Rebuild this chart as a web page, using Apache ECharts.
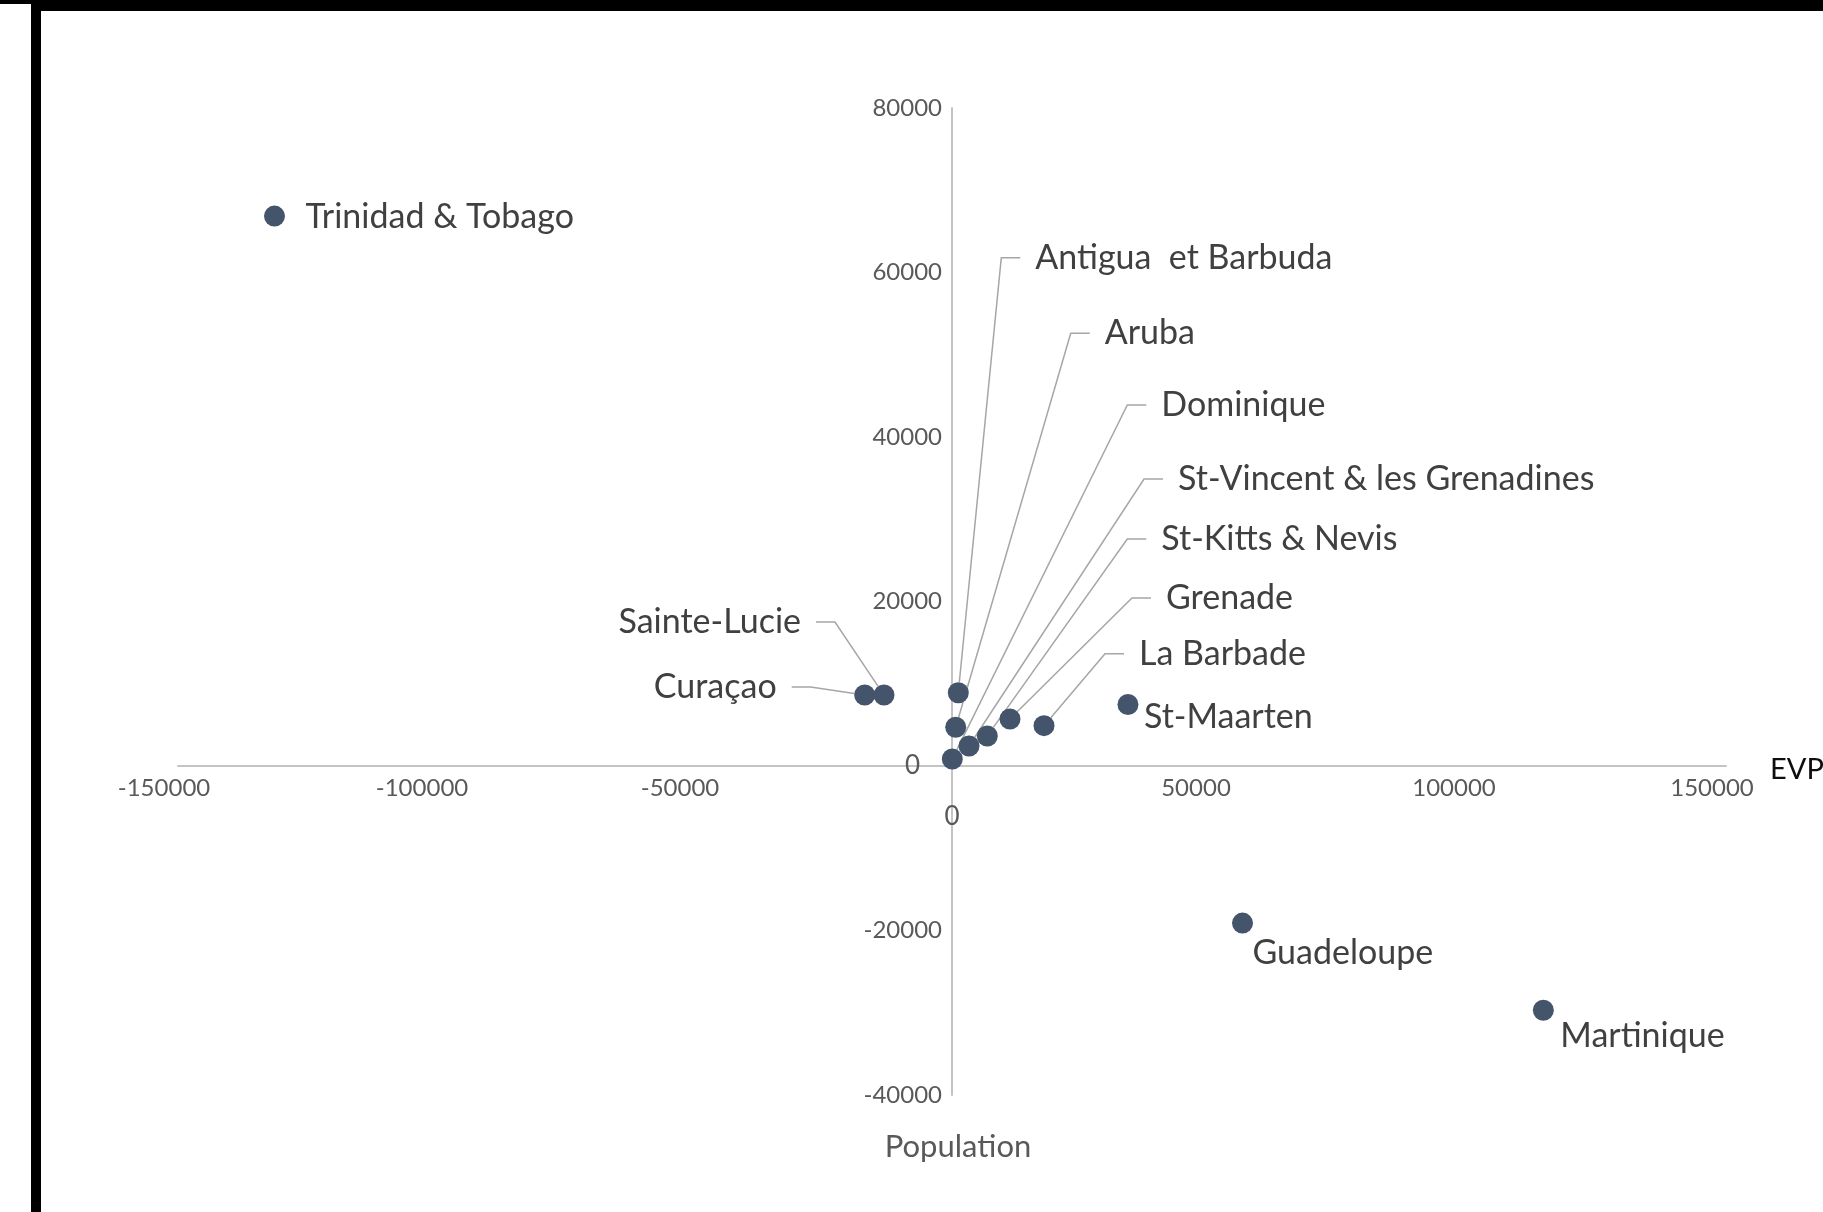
<!DOCTYPE html>
<html>
<head>
<meta charset="utf-8">
<script src="https://cdn.jsdelivr.net/npm/echarts@6/dist/echarts.min.js"></script>
<style>
html,body{margin:0;padding:0;background:#fff;}
#chart{width:1823px;height:1212px;}
</style>
</head>
<body>
<div id="chart"></div>
<script>
// ---- data ----
const countries = ['Trinidad & Tobago','Antigua  et Barbuda','Aruba','Dominique','St-Vincent & les Grenadines','St-Kitts & Nevis','Grenade','La Barbade','St-Maarten','Sainte-Lucie','Curaçao','Guadeloupe','Martinique'];
const evp =        [-131300, 1220, 720, 60, 3300, 6840, 11240, 17830, 34100, -13180, -16920, 56300, 114600];
const population = [66860, 8910, 4710, 850, 2430, 3650, 5720, 4900, 7480, 8630, 8630, -19100, -29700];
const xTicks = {min: -150000, max: 150000, interval: 50000};
const yTicks = {min: -40000, max: 80000, interval: 20000};

// ---- label layout (pixel offsets from point centre, layout only) ----
const labelDx =   [16, 62, 134, 194, 194, 159, 141, 80, 1, -68, -73, -5, 2];
const labelDy =   [1, -435, -394, -354, -267, -197, -121, -72, 13, -73, -8, 30, 26];
const labelSide = ['left','left','left','left','left','left','left','left','left','right','right','left','left'];
const labelLeader=[false,true,true,true,true,true,true,true,false,true,true,false,false];

const FONT = 'Lato';
const chart = echarts.init(document.getElementById('chart'));

const points = countries.map((n, i) => {
  const pad = labelSide[i] === 'left' ? [2, labelLeader[i] ? 220 : 4, 2, 15] : [2, 15, 2, 220];
  return {
    name: n,
    value: [evp[i], population[i]],
    label: {padding: pad},
    labelLine: {show: labelLeader[i]}
  };
});

function axisLabelCfg(pad, zeroPad) {
  return {
    fontFamily: FONT, fontSize: 24, color: '#595959', margin: 10, padding: pad,
    formatter: v => v === 0 ? '{z|0}' : String(v),
    rich: {z: {fontFamily: FONT, fontSize: 26, color: '#595959', padding: zeroPad}}
  };
}

const option = {
  animation: false,
  backgroundColor: '#ffffff',
  grid: {left: 178, right: 97, top: 108, bottom: 117, containLabel: false, outerBoundsMode: 'none'},
  xAxis: {
    type: 'value', min: xTicks.min, max: xTicks.max, interval: xTicks.interval,
    position: 'bottom', offset: 0,
    name: 'EVP', nameLocation: 'end', nameGap: 44,
    nameTextStyle: {fontFamily: FONT, fontSize: 29, color: '#0d0d0d', verticalAlign: 'top', lineHeight: 8},
    axisLine: {onZero: false, lineStyle: {color: '#c4c4c4', width: 2}},
    axisTick: {show: false},
    splitLine: {show: false},
    axisLabel: axisLabelCfg([0, 28, 0, 0], [28, 0, 0, 28])
  },
  yAxis: {
    type: 'value', min: yTicks.min, max: yTicks.max, interval: yTicks.interval,
    position: 'left', offset: 0,
    name: 'Population', nameLocation: 'start', nameGap: 36,
    nameTextStyle: {fontFamily: FONT, fontSize: 31, color: '#595959', align: 'center', padding: [0, 0, 0, 12]},
    axisLine: {onZero: false, lineStyle: {color: '#c4c4c4', width: 2}},
    axisTick: {show: false},
    splitLine: {show: false},
    axisLabel: axisLabelCfg([0, 0, 0, 0], [0, 22, 0, 0])
  },
  graphic: [
    {type: 'rect', left: 0, top: 0, shape: {width: 1823, height: 4}, style: {fill: '#000'}, z: 100},
    {type: 'rect', left: 31, top: 0, shape: {width: 1792, height: 11}, style: {fill: '#000'}, z: 100},
    {type: 'rect', left: 31, top: 0, shape: {width: 10, height: 1212}, style: {fill: '#000'}, z: 100}
  ],
  series: [{
    type: 'scatter',
    symbol: 'circle',
    symbolSize: 21,
    itemStyle: {color: '#44546a', opacity: 1},
    data: points,
    label: {
      show: true,
      formatter: p => p.name,
      fontFamily: FONT, fontSize: 34, color: '#404040',
      backgroundColor: 'rgba(255,255,255,0)'
    },
    labelLine: {
      show: true, length2: 19, minTurnAngle: 90,
      lineStyle: {color: '#a6a6a6', width: 1.5}
    },
    labelLayout: params => {
      const i = params.dataIndex;
      const cx = params.rect.x + params.rect.width / 2;
      const cy = params.rect.y + params.rect.height / 2;
      return {
        x: cx + labelDx[i],
        y: cy + labelDy[i],
        align: labelSide[i],
        verticalAlign: 'middle',
        hideOverlap: false
      };
    }
  }]
};
chart.setOption(option);

// place the axes so that they cross at the origin (axis offsets derived from the scales)
const zero = chart.convertToPixel({gridIndex: 0}, [0, 0]);
const gridRect = chart.getModel().getComponent('grid').coordinateSystem.getRect();
chart.setOption({
  xAxis: {offset: zero[1] - (gridRect.y + gridRect.height)},
  yAxis: {offset: gridRect.x - zero[0]}
});
</script>
</body>
</html>
